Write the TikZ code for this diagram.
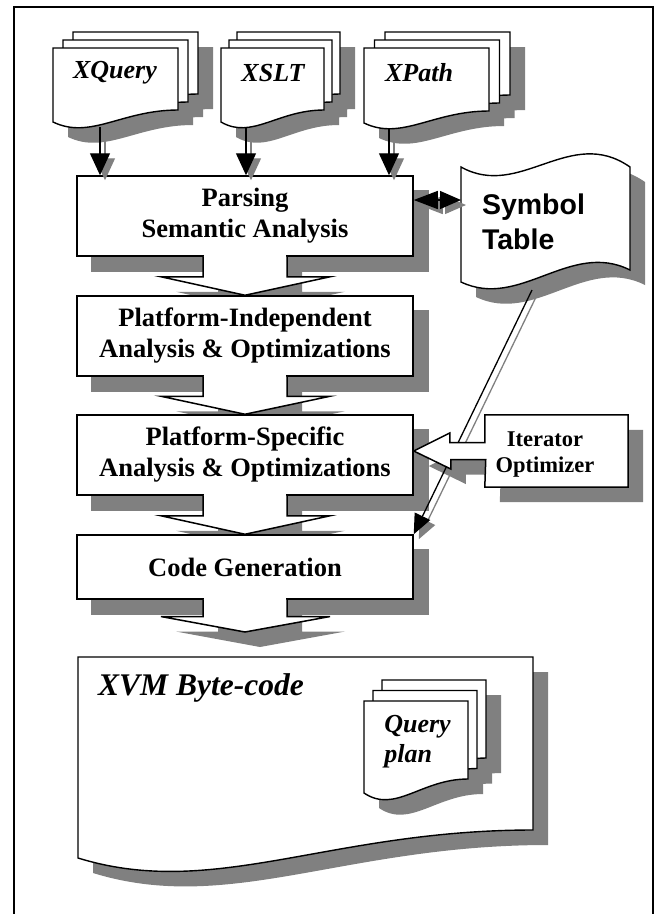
\documentclass[tikz,border=0pt]{standalone}
\usepackage{fontspec}
\setmainfont{Liberation Serif}
\setsansfont{Liberation Sans}
\usetikzlibrary{arrows.meta,calc}

\definecolor{shadegray}{gray}{0.5}
\pgfdeclarelayer{shade}
\pgfsetlayers{shade,main}

\newcommand\boxfont{\fontsize{26.5}{31}\selectfont\bfseries}
\newcommand\docfont{\fontsize{26}{30}\selectfont\bfseries\itshape}
\newcommand\iterfont{\fontsize{22.5}{26}\selectfont\bfseries}
\newcommand\symfont{\sffamily\fontsize{28.5}{35}\selectfont\bfseries}
\newcommand\xvmfont{\fontsize{31.5}{36}\selectfont\bfseries\itshape}

% one sheet with a wavy lower edge: x, y, width, height, wave
\newcommand\papersheet[5]{({#1},{#2}) -- ({#1+#3},{#2}) -- ({#1+#3},{#2+#4-#5})
  .. controls ({#1+0.55*#3},{#2+#4-#5}) and ({#1+0.3*#3},{#2+#4+1.5*#5}) .. ({#1},{#2+#4}) -- cycle}

% three sheets, each one shifted by (dx,-dy) behind the other
\newcommand\paperstack[7]{%
  \foreach \k in {2,1,0}
    \fill[shadegray, shift={(15+\k*#6,15-\k*#7)}] \papersheet{#1}{#2}{#3}{#4}{#5};
  \foreach \k in {2,1,0}
    \filldraw[sheet, shift={(\k*#6,-\k*#7)}] \papersheet{#1}{#2}{#3}{#4}{#5};
}

% punched tape
\newcommand\tapeoutline{(461,167) .. controls (520,200) and (570,125) .. (630,167) -- (630,270)
  .. controls (570,240) and (520,310) .. (461,282) -- cycle}

% box with the fat arrow on its left
\newcommand\iteroutline{(iter.north east) -- (iter.north west) -- ([yshift=8.5pt]iter.west)
  -- ++(-35,0) -- ++(0,-9.5) -- (iter.west -| spec.east) -- ++(37,18) -- ++(0,-9.5)
  -- ++(35,0) -- (iter.south west) -- (iter.south east) -- cycle}

% white block arrow hanging under a box: start anchor, tip
\newcommand\flowarrow[2]{%
  \coordinate (fa-mid) at ($(#1)!0.52!(#2)$);
  \begin{pgfonlayer}{shade}
    \fill[shadegray, transform canvas={xshift=15pt,yshift=-15pt}]
      ([xshift=-42pt]#1) -- ([xshift=-42pt]fa-mid) -- ([xshift=-84pt]fa-mid) -- (#2)
      -- ([xshift=85pt]fa-mid) -- ([xshift=42pt]fa-mid) -- ([xshift=42pt]#1) -- cycle;
  \end{pgfonlayer}
  \fill[white] ([xshift=-41pt,yshift=1.5pt]#1) rectangle ([xshift=41pt,yshift=-1pt]#1);
  \filldraw[flowline] ([xshift=-42pt]#1) -- ([xshift=-42pt]fa-mid) -- ([xshift=-84pt]fa-mid)
    -- (#2) -- ([xshift=85pt]fa-mid) -- ([xshift=42pt]fa-mid) -- ([xshift=42pt]#1);
}

\begin{document}
\begin{tikzpicture}[x=1pt, y=-1pt, line join=miter,
  box/.style={draw, line width=1.5pt, fill=white, font=\boxfont, align=center,
    minimum width=336pt, inner sep=0pt},
  sheet/.style={draw, fill=white, line width=1.4pt},
  flowline/.style={draw, fill=white, line width=1.5pt},
  link/.style={line width=1.3pt, -{Triangle[length=22pt,width=20pt]}},
  linkshade/.style={link, draw=shadegray, transform canvas={xshift=5pt,yshift=-5pt}},
  duplex/.style={line width=1.3pt, {Triangle[length=24pt,width=18pt]}-{Triangle[length=21pt,width=18pt]}},
  doclabel/.style={font=\docfont, inner sep=0pt}]

\useasboundingbox (0,0) rectangle (657,914);
\draw[line width=1.8pt] (14,914) -- (14,7) -- (653,7) -- (653,914);

% source documents
\paperstack{53}{48}{125}{74}{12}{10}{8}
\paperstack{221}{48}{103}{74}{12}{8}{8}
\paperstack{364}{48}{125}{75}{12}{10.5}{8}
\node[doclabel] (xquery) at (115,73) {XQuery};
\node[doclabel] (xslt) at (273,73) {XSLT};
\node[doclabel] (xpath) at (419,73) {XPath};
\coordinate (xquery-foot) at (100,127);
\coordinate (xslt-foot) at (246,128);
\coordinate (xpath-foot) at (389,128);

% compiler phases
\node[box, minimum height=80pt] (parse) at (245,216) {Parsing\\Semantic Analysis};
\node[box, minimum height=80pt] (indep) at (245,336) {Platform-Independent\\Analysis \& Optimizations};
\node[box, minimum height=80pt] (spec) at (245,455) {Platform-Specific\\Analysis \& Optimizations};
\node[box, minimum height=64pt] (codegen) at (245,567) {Code Generation};
\coordinate (bytecode-in) at (245,632);

\begin{pgfonlayer}{shade}
  \foreach \ph in {parse,indep,spec,codegen}
    \fill[shadegray] ([shift={(15,15)}]\ph.north west) rectangle ([shift={(15,15)}]\ph.south east);
\end{pgfonlayer}

\flowarrow{parse.south}{indep.north}
\flowarrow{indep.south}{spec.north}
\flowarrow{spec.south}{codegen.north}
\flowarrow{codegen.south}{bytecode-in}

\foreach \src in {xquery,xslt,xpath} {
  \draw[linkshade] (\src-foot) -- (\src-foot |- parse.north);
  \draw[link] (\src-foot) -- (\src-foot |- parse.north);
}

% symbol table
\begin{pgfonlayer}{shade}
  \fill[shadegray, shift={(15,15)}] \tapeoutline;
\end{pgfonlayer}
\filldraw[sheet] \tapeoutline;
\node[font=\symfont, align=left, inner sep=0pt] (symtab) at (533.5,222) {Symbol\\Table};
\coordinate (symtab-west) at (461,200);
\coordinate (symtab-foot) at (532,290);

\draw[duplex, draw=shadegray, transform canvas={xshift=5pt,yshift=-5pt}] (parse.east |- symtab-west) -- (symtab-west);
\draw[duplex] (parse.east |- symtab-west) -- (symtab-west);

\draw[linkshade, -{Triangle[length=20pt,width=17pt]}] (symtab-foot) -- (codegen.north east);
\draw[link, -{Triangle[length=20pt,width=17pt]}] (symtab-foot) -- (codegen.north east);

% iterator optimizer
\node[minimum width=143pt, minimum height=72pt, inner sep=0pt] (iter) at (556.5,451) {};
\begin{pgfonlayer}{shade}
  \fill[shadegray, transform canvas={xshift=15pt,yshift=-15pt}] \iteroutline;
\end{pgfonlayer}
\filldraw[flowline] \iteroutline;
\node[font=\iterfont, align=center, inner sep=0pt] (itertext) at (545,455) {Iterator\\Optimizer};

% generated code
\fill[shadegray, shift={(15,15)}] \papersheet{78}{657}{455}{201}{28};
\filldraw[sheet] \papersheet{78}{657}{455}{201}{28};
\node[font=\xvmfont, anchor=west, inner sep=0pt] (bytecode) at (98,688) {XVM Byte-code};
\paperstack{364}{701}{104}{92}{14}{9}{10.5}
\node[doclabel, align=left] (plan) at (417.5,742) {Query\\plan};

\end{tikzpicture}
\end{document}
